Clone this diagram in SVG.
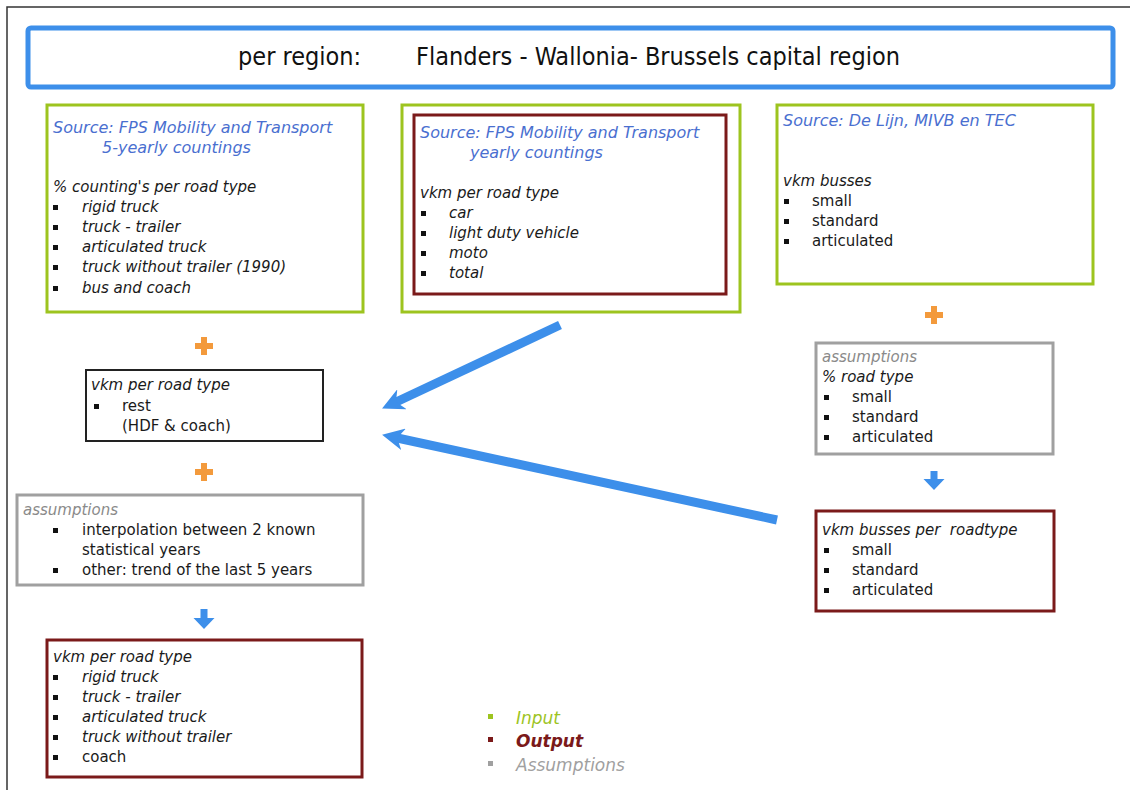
<svg xmlns="http://www.w3.org/2000/svg" width="1130" height="790" viewBox="0 0 1130 790">
<style>
text{font-family:"DejaVu Sans","Liberation Sans",sans-serif;font-size:15px;fill:#1a1a1a}
.it{font-style:italic}
.src{font-style:italic;fill:#4a6fd0;font-size:16px}
.gr{font-style:italic;fill:#8a8a8a}
.title{font-family:"DejaVu Sans Condensed","DejaVu Sans",sans-serif;font-size:25px;fill:#111}
.green{fill:none;stroke:#9dc41f;stroke-width:3}
.red{fill:none;stroke:#7b1a1a;stroke-width:3}
.gray{fill:none;stroke:#a0a0a0;stroke-width:3}
.black{fill:none;stroke:#222;stroke-width:2}
.b{fill:#111}
.plus{fill:#f39a3c}
.down{fill:#3d8fea}
.conn{stroke:#3d8fea;stroke-width:9;fill:none}
.leg{font-size:17px;font-style:italic}
</style>
<defs>
<marker id="ah" markerUnits="userSpaceOnUse" markerWidth="22" markerHeight="22" viewBox="0 0 20 20" refX="8" refY="10" orient="auto">
<path d="M0,0 L20,10 L0,20 L6,10 z" fill="#3d8fea"/>
</marker>
</defs>
<rect width="1130" height="790" fill="#fff"/>
<path d="M7,790 L7,7 L1130,7" fill="none" stroke="#333" stroke-width="1.5"/>

<g id="header">
<rect x="28" y="28" width="1085" height="59" rx="3" fill="none" stroke="#3d8fea" stroke-width="5"/>
<text class="title" x="238" y="65">per region:</text>
<text class="title" x="416" y="65">Flanders - Wallonia- Brussels capital region</text>
</g>

<g id="fps5">
<rect class="green" x="47" y="105" width="316" height="207"/>
<text class="src" x="53" y="133">Source: FPS Mobility and Transport</text>
<text class="src" x="102" y="153">5-yearly countings</text>
<text class="it" x="53" y="192">% counting's per road type</text>
<rect class="b" x="53" y="205" width="5" height="5"/><text class="it" x="82" y="212">rigid truck</text>
<rect class="b" x="53" y="225" width="5" height="5"/><text class="it" x="82" y="232">truck - trailer</text>
<rect class="b" x="53" y="245" width="5" height="5"/><text class="it" x="82" y="252">articulated truck</text>
<rect class="b" x="53" y="265" width="5" height="5"/><text class="it" x="82" y="272">truck without trailer (1990)</text>
<rect class="b" x="53" y="286" width="5" height="5"/><text class="it" x="82" y="293">bus and coach</text>
</g>

<g id="fpsyearly">
<rect class="green" x="402" y="105" width="338" height="207"/>
<rect class="red" x="414" y="115" width="312" height="179"/>
<text class="src" x="420" y="138">Source: FPS Mobility and Transport</text>
<text class="src" x="470" y="158">yearly countings</text>
<text class="it" x="420" y="198">vkm per road type</text>
<rect class="b" x="421" y="211" width="5" height="5"/><text class="it" x="449" y="218">car</text>
<rect class="b" x="421" y="231" width="5" height="5"/><text class="it" x="449" y="238">light duty vehicle</text>
<rect class="b" x="421" y="251" width="5" height="5"/><text class="it" x="449" y="258">moto</text>
<rect class="b" x="421" y="271" width="5" height="5"/><text class="it" x="449" y="278">total</text>
</g>

<g id="delijn">
<rect class="green" x="777" y="105" width="316" height="179"/>
<text class="src" x="783" y="126">Source: De Lijn, MIVB en TEC</text>
<text class="it" x="783" y="186">vkm busses</text>
<rect class="b" x="784" y="199" width="5" height="5"/><text x="812" y="206">small</text>
<rect class="b" x="784" y="219" width="5" height="5"/><text x="812" y="226">standard</text>
<rect class="b" x="784" y="239" width="5" height="5"/><text x="812" y="246">articulated</text>
</g>

<g id="plus1"><path class="plus" d="M201,337 h6 v6 h6 v6 h-6 v6 h-6 v-6 h-6 v-6 h6 z"/></g>
<g id="plus2"><path class="plus" d="M201,463 h6 v6 h6 v6 h-6 v6 h-6 v-6 h-6 v-6 h6 z"/></g>
<g id="plus3"><path class="plus" d="M931,306 h6 v6 h6 v6 h-6 v6 h-6 v-6 h-6 v-6 h6 z"/></g>

<g id="rest">
<rect class="black" x="86" y="370" width="237" height="71"/>
<text class="it" x="91" y="390">vkm per road type</text>
<rect class="b" x="94" y="404" width="5" height="5"/><text x="122" y="411">rest</text>
<text x="122" y="431">(HDF &amp; coach)</text>
</g>

<g id="assump-left">
<rect class="gray" x="17" y="495" width="346" height="90"/>
<text class="gr" x="23" y="515">assumptions</text>
<rect class="b" x="53" y="528" width="5" height="5"/><text x="82" y="535">interpolation between 2 known</text>
<text x="82" y="555">statistical years</text>
<rect class="b" x="53" y="568" width="5" height="5"/><text x="82" y="575">other: trend of the last 5 years</text>
</g>

<g id="down1"><path class="down" d="M200.5,609 h7 v9 h7 l-10.5,11 l-10.5,-11 h7 z"/></g>

<g id="out-left">
<rect class="red" x="47" y="640" width="315" height="137"/>
<text class="it" x="53" y="662">vkm per road type</text>
<rect class="b" x="53" y="675" width="5" height="5"/><text class="it" x="82" y="682">rigid truck</text>
<rect class="b" x="53" y="695" width="5" height="5"/><text class="it" x="82" y="702">truck - trailer</text>
<rect class="b" x="53" y="715" width="5" height="5"/><text class="it" x="82" y="722">articulated truck</text>
<rect class="b" x="53" y="735" width="5" height="5"/><text class="it" x="82" y="742">truck without trailer</text>
<rect class="b" x="53" y="755" width="5" height="5"/><text x="82" y="762">coach</text>
</g>

<g id="assump-right">
<rect class="gray" x="816" y="343" width="237" height="111"/>
<text class="gr" x="822" y="362">assumptions</text>
<text class="it" x="822" y="382">% road type</text>
<rect class="b" x="824" y="395" width="5" height="5"/><text x="852" y="402">small</text>
<rect class="b" x="824" y="415" width="5" height="5"/><text x="852" y="422">standard</text>
<rect class="b" x="824" y="435" width="5" height="5"/><text x="852" y="442">articulated</text>
</g>

<g id="down2"><path class="down" d="M930.5,471 h7 v8 h7 l-10.5,11 l-10.5,-11 h7 z"/></g>

<g id="out-right">
<rect class="red" x="816" y="511" width="238" height="100"/>
<text class="it" x="822" y="535" xml:space="preserve">vkm busses per  roadtype</text>
<rect class="b" x="824" y="548" width="5" height="5"/><text x="852" y="555">small</text>
<rect class="b" x="824" y="568" width="5" height="5"/><text x="852" y="575">standard</text>
<rect class="b" x="824" y="588" width="5" height="5"/><text x="852" y="595">articulated</text>
</g>

<g id="connectors">
<line class="conn" x1="560" y1="325" x2="394" y2="403" marker-end="url(#ah)"/>
<line class="conn" x1="777" y1="520" x2="395" y2="437.5" marker-end="url(#ah)"/>
</g>

<g id="legend">
<rect x="488" y="714" width="5" height="5" fill="#9dc41f"/><text class="leg" x="516" y="724" style="fill:#9dc41f">Input</text>
<rect x="488" y="737" width="5" height="5" fill="#7b1a1a"/><text class="leg" x="516" y="747" style="fill:#7b1a1a;font-weight:bold">Output</text>
<rect x="488" y="761" width="5" height="5" fill="#a0a0a0"/><text class="leg" x="516" y="771" style="fill:#a0a0a0">Assumptions</text>
</g>
</svg>
